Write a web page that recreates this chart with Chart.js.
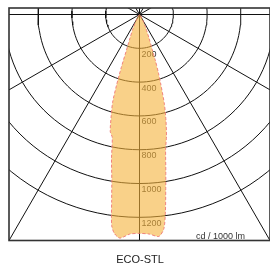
<!DOCTYPE html>
<html>
<head>
<meta charset="utf-8">
<script src="https://cdn.jsdelivr.net/npm/chart.js@4"></script>
<style>
html,body{margin:0;padding:0;background:#fff;}
</style>
</head>
<body>
<canvas id="myChart" width="270" height="268"></canvas>
<script>
// rings and spokes of the polar grid (cd / 1000 lm, degrees from nadir)
const ringValues=[200,400,600,800,1000,1200];
const ringLabels=['200','400','600','800','1000','1200'];
const spokeAngles=[-180,-150,-120,-90,-60,-30,0,30,60,90,120,150];

// luminous intensity curve, one array per half plane
const beamAngles=[0,2.5,5,6.5,7.5,8.5,9.5,11,12.5,14,15.5,17,18,19,20,22,25,30,40,50];
const beamLeft=[1295,1300,1328,1305,1260,1115,993,868,745,715,629,545,440,330,230,150,90,40,10,0];
const beamRight=[1295,1300,1318,1275,1175,1050,943,810,737,647,552,430,360,290,220,150,90,40,10,0];

const unitLabel='cd / 1000 lm';
const lampName='ECO-STL';

function polar(deg,val){
	const a=deg*Math.PI/180;
	return {x:val*Math.sin(a),y:-val*Math.cos(a)};
}

var datasets=[];

function setDatasets(){
	// beam outline: left half from wide angle to nadir, then right half back out
	let beam=[];
	for(let i=beamAngles.length-1;i>=0;i--) beam.push(polar(-beamAngles[i],beamLeft[i]));
	for(let i=1;i<beamAngles.length;i++) beam.push(polar(beamAngles[i],beamRight[i]));
	datasets.push({
		data:beam,
		showLine:true,
		fill:'shape',
		backgroundColor:'rgba(245,178,58,0.6)',
		borderColor:'rgba(238,120,120,0.9)',
		borderWidth:1,
		borderDash:[3,2],
		tension:0.25,
		pointRadius:0,
		order:0
	});
	ringValues.forEach((v)=>{
		let pts=[];
		for(let d=-180;d<=180;d+=3) pts.push(polar(d,v));
		datasets.push({data:pts,showLine:true,borderColor:'#111',borderWidth:1,pointRadius:0,fill:false,order:1});
	});
	spokeAngles.forEach((d)=>{
		datasets.push({data:[polar(d,0),polar(d,3000)],showLine:true,borderColor:'#111',borderWidth:1,pointRadius:0,fill:false,order:1});
	});
}

const decor={
	id:'decor',
	beforeDatasetsDraw(chart){
		const ctx=chart.ctx, xs=chart.scales.x, ys=chart.scales.y;
		ctx.save();
		ctx.font='9px "Liberation Sans", Arial, sans-serif';
		ctx.fillStyle='#333';
		ctx.textBaseline='top';
		ctx.textAlign='left';
		ringValues.forEach((v,i)=>{
			ctx.fillText(ringLabels[i],xs.getPixelForValue(0)+2,ys.getPixelForValue(-v)+1.5);
		});
		ctx.restore();
	},
	afterDraw(chart){
		const ctx=chart.ctx, a=chart.chartArea;
		ctx.save();
		ctx.strokeStyle='#333';
		ctx.lineWidth=1.6;
		ctx.strokeRect(a.left,a.top,a.right-a.left,a.bottom-a.top);
		ctx.font='9px "Liberation Sans", Arial, sans-serif';
		ctx.fillStyle='#333';
		ctx.textAlign='right';
		ctx.textBaseline='alphabetic';
		ctx.fillText(unitLabel,245,238.5);
		ctx.font='11px "Liberation Sans", Arial, sans-serif';
		ctx.fillStyle='#222';
		ctx.textAlign='center';
		ctx.fillText(lampName,140,263);
		ctx.restore();
	}
};

function drawChart(){
	setDatasets();
	new Chart(document.getElementById('myChart'),{
		type:'scatter',
		data:{datasets:datasets},
		options:{
			responsive:false,
			animation:false,
			layout:{padding:{left:9,top:8,right:0,bottom:27.5}},
			plugins:{legend:{display:false},tooltip:{enabled:false}},
			scales:{
				x:{type:'linear',min:-772,max:772,display:false},
				y:{type:'linear',min:-1337,max:38.5,display:false}
			}
		},
		plugins:[decor]
	});
}
drawChart();
</script>
</body>
</html>
